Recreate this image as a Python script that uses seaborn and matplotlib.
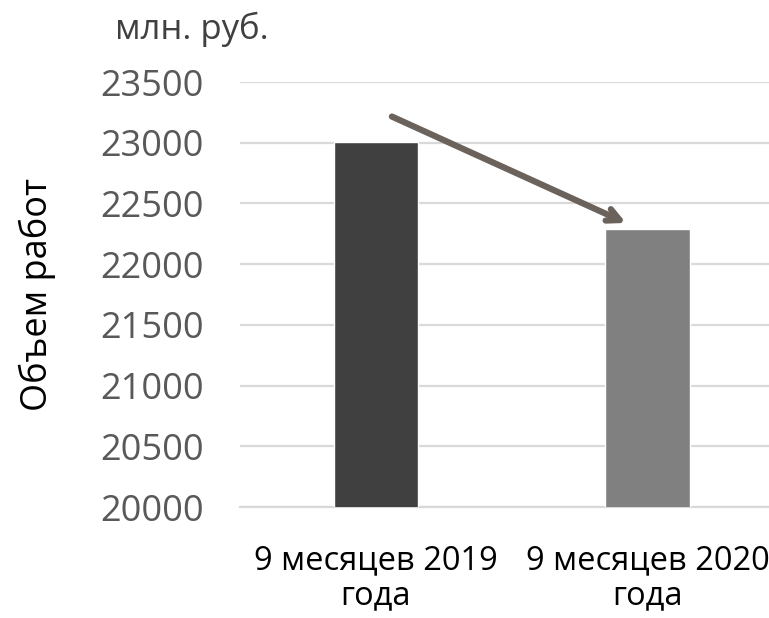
import pandas as pd
import matplotlib
matplotlib.use("Agg")
import matplotlib.pyplot as plt
import seaborn as sns

periods = ["9 месяцев 2019\nгода", "9 месяцев 2020\nгода"]
volumes = [23010, 22290]
bar_colors = ["#404040", "#808080"]
y_ticks = [20000, 20500, 21000, 21500, 22000, 22500, 23000, 23500]

df = pd.DataFrame({"period": periods, "volume": volumes})

sns.set_style("white")
plt.rcParams["font.family"] = ["Open Sans", "DejaVu Sans"]

fig = plt.figure(figsize=(7.69, 6.18), dpi=100)
ax = fig.add_axes([0.312, 0.1796, 0.688, 0.6877])

sns.barplot(data=df, x="period", y="volume", hue="period", palette=bar_colors,
            legend=False, width=0.31, saturation=1, ax=ax, zorder=3)

ax.set_ylim(20000, 23500)
ax.set_xlim(-0.5, 1.447)
ax.set_yticks(y_ticks)
ax.set_yticklabels([str(t) for t in y_ticks], fontsize=26, color="#595959")
ax.tick_params(axis="x", labelsize=23.5, labelcolor="black", length=0, pad=27)
ax.tick_params(axis="y", length=0, pad=26)
for lbl in ax.get_xticklabels():
    lbl.set_linespacing(1.08)
ax.grid(axis="y", color="#d9d9d9", linewidth=1.6, zorder=0)
ax.set_axisbelow(True)
for s in ["top", "right", "left"]:
    ax.spines[s].set_visible(False)
ax.spines["bottom"].set_color("#d9d9d9")
ax.spines["bottom"].set_linewidth(1.6)
ax.set_xlabel("")
ax.set_ylabel("Объем работ", fontsize=26, color="black")
ax.yaxis.set_label_coords(-0.347, 0.5)

# trend arrow
ax.annotate("", xy=(0.93, 22330), xytext=(0.05, 23225),
            arrowprops=dict(arrowstyle="->,head_length=0.9,head_width=0.45",
                            color="#6b625c", lw=4.5), zorder=5)

fig.text(0.25, 0.952, "млн. руб.", fontsize=25, color="#404040", ha="center", va="center")

fig.savefig("out.png", dpi=100)
